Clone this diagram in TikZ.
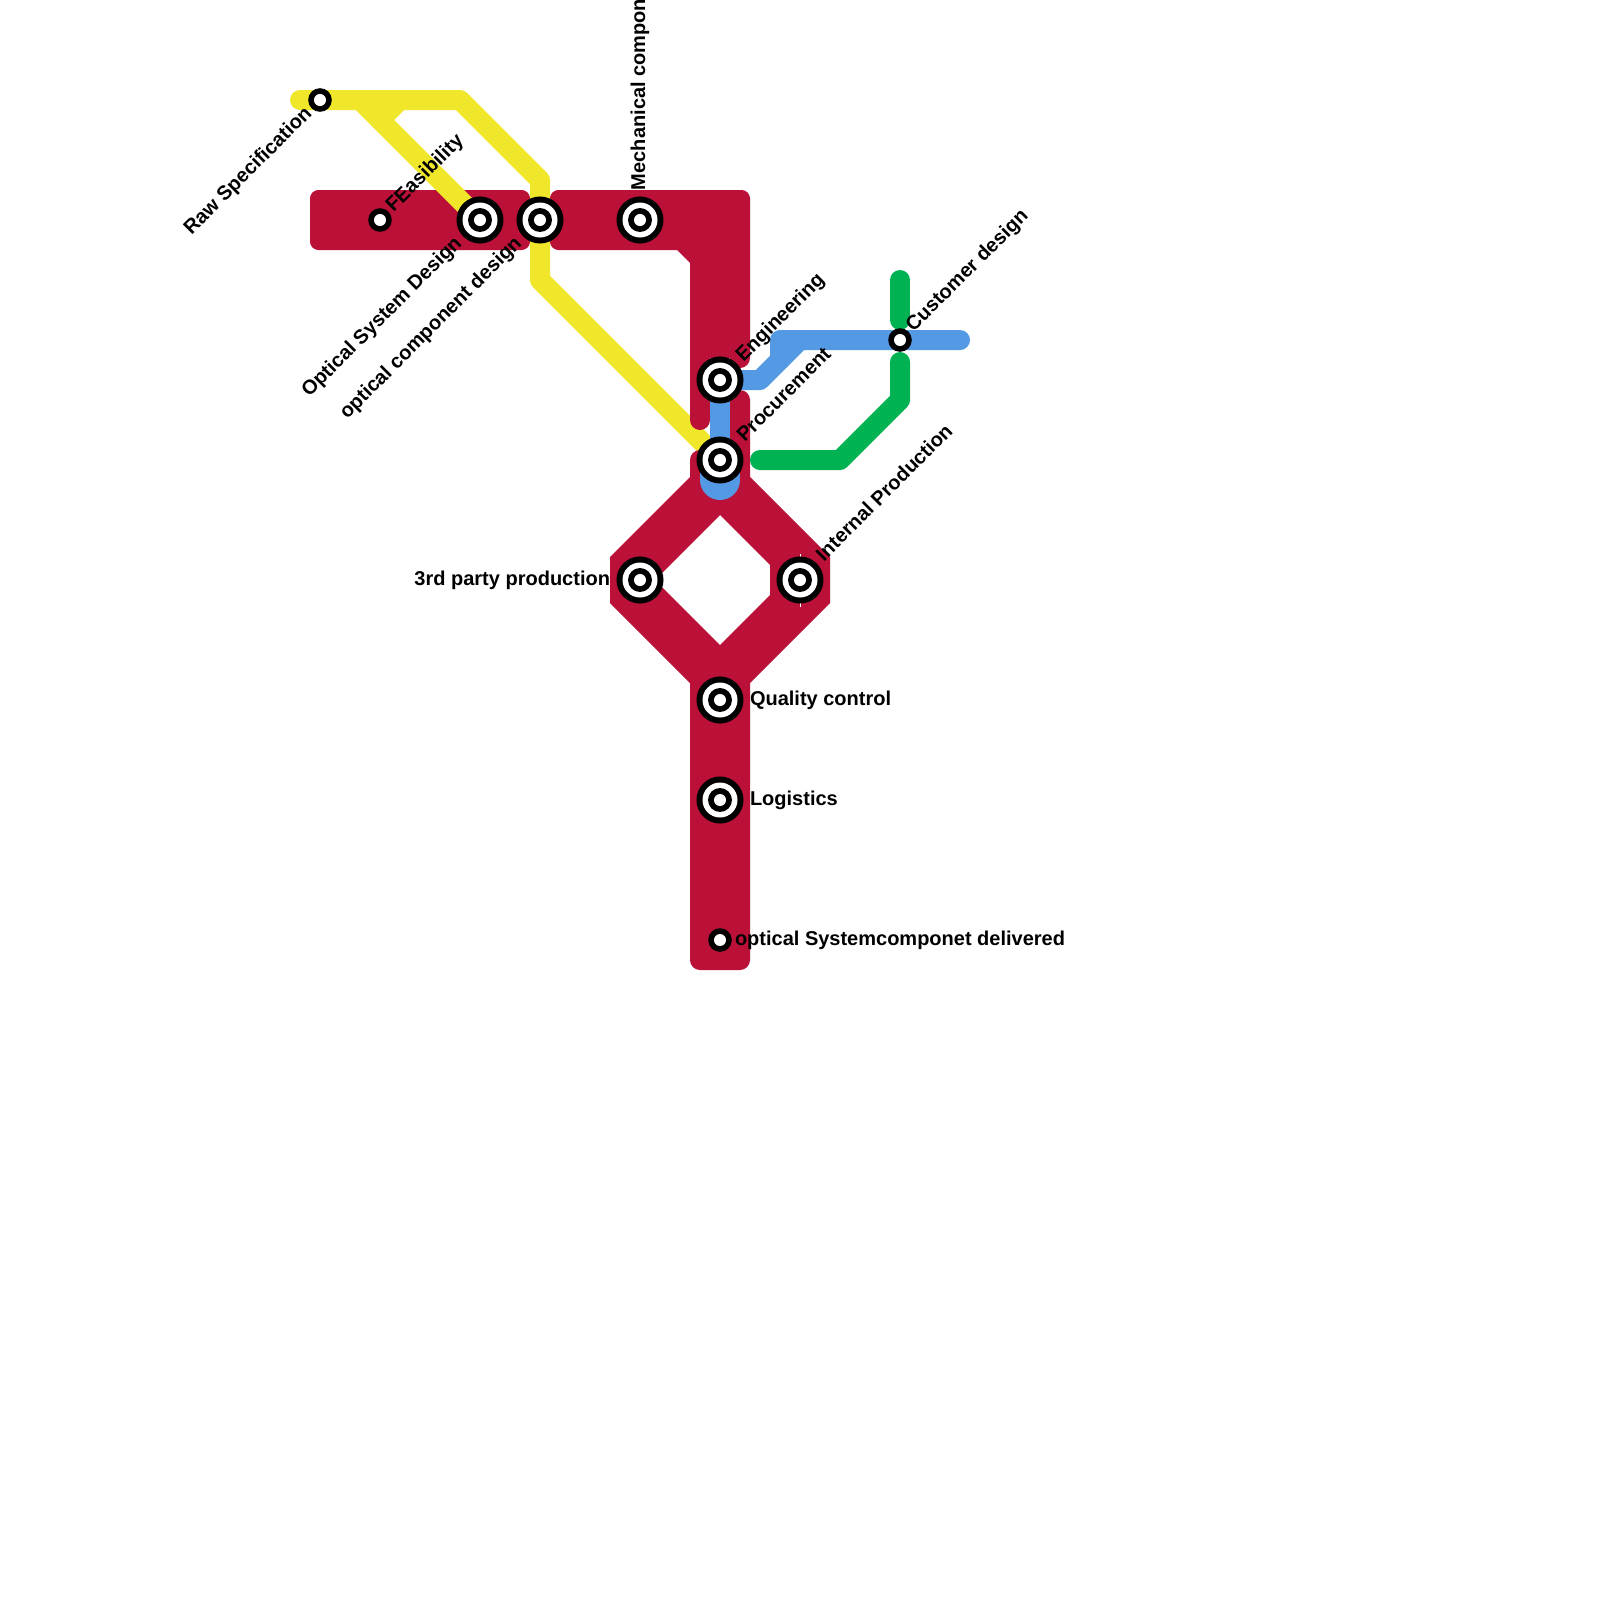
\documentclass[tikz,border=0pt]{standalone}
\usepackage{fontspec}
\setmainfont{Liberation Sans}
\definecolor{mred}{HTML}{BB1038}
\definecolor{myellow}{HTML}{F0E72B}
\definecolor{mblue}{HTML}{5499E4}
\definecolor{mgreen}{HTML}{00B251}
\newcommand{\xstation}[1]{%
  \node[disc,fill=black,minimum size=66.9pt] (s-#1) at (#1) {};
  \node[disc,fill=white,minimum size=49.8pt] at (#1) {};
  \node[disc,fill=black,minimum size=34.1pt] at (#1) {};
  \node[disc,fill=white,minimum size=17.1pt] at (#1) {};}
\newcommand{\sstation}[1]{%
  \node[disc,fill=black,minimum size=33.6pt] (s-#1) at (#1) {};
  \node[disc,fill=white,minimum size=17.1pt] at (#1) {};}
\tikzset{
  disc/.style={circle,draw=none,inner sep=0pt,outer sep=0pt},
  mline/.style={line width=28.45pt,line cap=round,line join=round},
  yline/.style={mline,draw=myellow},
  bline/.style={mline,draw=mblue},
  gline/.style={mline,draw=mgreen},
  rline/.style={mline,draw=mred},
  rblock/.style={fill=mred,rounded corners=12pt},
  lab/.style={inner sep=0pt,outer sep=0pt,text=black,font=\fontsize{28.45}{30}\selectfont\bfseries},
}
\begin{document}
\begin{tikzpicture}[x=1.4226pt,y=-1.4226pt]
\useasboundingbox (0,0) rectangle (1600,1600);
\clip (0,0) rectangle (1600,1600);
\fill[white] (0,0) rectangle (1600,1600);
% station positions
\coordinate (raw) at (320,100);
\coordinate (fea) at (380,220);
\coordinate (osd) at (480,220);
\coordinate (ocd) at (540,220);
\coordinate (mech) at (640,220);
\coordinate (eng) at (720,380);
\coordinate (proc) at (720,460);
\coordinate (third) at (640,580);
\coordinate (intp) at (800,580);
\coordinate (qc) at (720,700);
\coordinate (logi) at (720,800);
\coordinate (deliv) at (720,940);
\coordinate (cust) at (900,340);
% free ends of the lines
\coordinate (ystart) at (300,100);
% red: horizontal bands
\fill[rblock] (310,190) -- (530,190) -- (530,250) -- (310,250) -- cycle;
% yellow
\draw[yline] (ystart) -- (460,100) -- (540,180) -- (ocd) -- (540,280) -- (proc);
\draw[yline] (360,100) -- (osd);
\draw[yline] (400,100) -- (380,120);
% red: upper block with the bend
\fill[rblock] (550,190) -- (750,190) [sharp corners] -- (750,358) -- (710,358) -- (710,420) -- (690,420) -- (690,263) -- (677,250) [rounded corners=12pt] -- (550,250) -- cycle;
\draw[rline] (700,260) -- (700,420);
\draw[rline] (740,260) -- (740,358);
% red: lower block, diamond with hole
\fill[mred,even odd rule]
  (700,450) -- (730,450) -- (730,390) -- (740,390)
  .. controls (745.5,390) and (750,394.5) .. (750,400)
  -- (750,477) -- (830,557) -- (830,603) -- (750,683)
  -- (750,960) .. controls (750,965.5) and (745.5,970) .. (740,970)
  -- (700,970) .. controls (694.5,970) and (690,965.5) .. (690,960)
  -- (690,683) -- (610,603) -- (610,557) -- (690,477) -- (690,460)
  .. controls (690,454.5) and (694.5,450) .. (700,450) -- cycle
  (720,515) -- (770,565) -- (770,595) -- (720,645) -- (655,580) -- cycle;
% hairline slits at the station on the right
\fill[white] (799.5,553.5) rectangle (800.5,557);
\fill[white] (799.5,603) rectangle (800.5,606.5);
% blue
\draw[bline] (eng) -- (760,380) -- (800,340) -- (960,340);
\draw[bline] (780,360) -- (780,340) -- (800,340);
\draw[bline] (eng) -- (proc);
\draw[mblue,line width=56.9pt,line cap=round] (proc) -- (720,480);
% green
\draw[gline] (900,280) -- (900,320);
\draw[gline] (900,362) -- (900,400) -- (840,460) -- (760,460);
% stations
\sstation{raw}
\sstation{fea}
\xstation{osd}
\xstation{ocd}
\xstation{mech}
\xstation{eng}
\xstation{proc}
\xstation{third}
\xstation{intp}
\xstation{qc}
\xstation{logi}
\sstation{deliv}
\sstation{cust}
% labels
\node[lab,rotate=45,anchor=east] (l-raw) at (309,111) {Raw Specification};
\node[lab,rotate=45,anchor=west] (l-fea) at (390,209) {FEasibility};
\node[lab,rotate=45,anchor=east] (l-osd) at (459,241) {Optical System Design};
\node[lab,rotate=45,anchor=east] (l-ocd) at (519,241) {optical component design};
\node[lab,rotate=90,anchor=west] (l-mech) at (640,190) {Mechanical compon};
\node[lab,rotate=45,anchor=west] (l-eng) at (740,359) {Engineering};
\node[lab,rotate=45,anchor=west] (l-proc) at (740,438) {Procurement};
\node[lab,rotate=45,anchor=west] (l-cust) at (910,329) {Customer design};
\node[lab,rotate=45,anchor=west] (l-intp) at (819,557) {Internal Production};
\node[lab,anchor=east] (l-third) at (610,580) {3rd party production};
\node[lab,anchor=west] (l-qc) at (750,700) {Quality control};
\node[lab,anchor=west] (l-logi) at (750,800) {Logistics};
\node[lab,anchor=west] (l-deliv) at (735,940) {optical Systemcomponet delivered};
\end{tikzpicture}
\end{document}
